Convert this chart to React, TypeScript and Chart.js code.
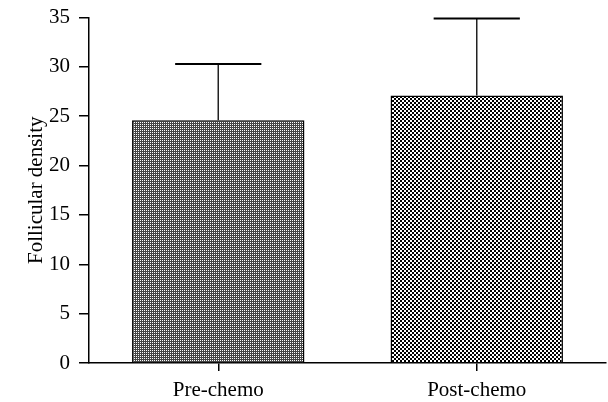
import React, { useEffect, useRef } from "react";
import { Chart, registerables } from "chart.js";

Chart.register(...registerables);

const categories = ["Pre-chemo", "Post-chemo"];
const means = [24.6, 27.1];
const errorTops = [30.3, 34.9];
const yTicks = [0, 5, 10, 15, 20, 25, 30, 35];
const yTitle = "Follicular density";

const FONT = "'Liberation Serif', 'Times New Roman', serif";

function makeDotPattern(ctx: CanvasRenderingContext2D) {
  const c = document.createElement("canvas");
  c.width = 2;
  c.height = 2;
  const g = c.getContext("2d")!;
  g.fillStyle = "#464646";
  g.fillRect(0, 0, 2, 2);
  g.fillStyle = "#ffffff";
  g.fillRect(0, 0, 1, 1);
  return ctx.createPattern(c, "repeat")!;
}

function makeCheckPattern(ctx: CanvasRenderingContext2D) {
  const c = document.createElement("canvas");
  c.width = 4;
  c.height = 4;
  const g = c.getContext("2d")!;
  g.fillStyle = "#ffffff";
  g.fillRect(0, 0, 4, 4);
  g.fillStyle = "#000000";
  g.fillRect(0, 0, 2, 2);
  g.fillRect(2, 2, 2, 2);
  return ctx.createPattern(c, "repeat")!;
}

const errorBarPlugin = {
  id: "errorBars",
  afterDatasetsDraw(chart: any) {
    const ctx = chart.ctx;
    const meta = chart.getDatasetMeta(0);
    const y = chart.scales.y;
    ctx.save();
    meta.data.forEach((bar: any, i: number) => {
      const x = bar.x;
      const yTop = y.getPixelForValue(errorTops[i]);
      const yBar = y.getPixelForValue(means[i]);
      const half = bar.width / 4;
      ctx.strokeStyle = "#222";
      ctx.lineWidth = 1.5;
      ctx.beginPath();
      ctx.moveTo(x, yBar);
      ctx.lineTo(x, yTop);
      ctx.stroke();
      ctx.strokeStyle = "#000";
      ctx.lineWidth = 2;
      ctx.beginPath();
      ctx.moveTo(x - half, yTop);
      ctx.lineTo(x + half, yTop);
      ctx.stroke();
    });
    ctx.restore();
  },
};

export default function App() {
  const ref = useRef<HTMLCanvasElement | null>(null);
  useEffect(() => {
    document.body.style.margin = "0";
    const canvas = ref.current!;
    const ctx = canvas.getContext("2d")!;
    const chart = new Chart(ctx, {
      type: "bar",
      data: {
        labels: categories,
        datasets: [
          {
            data: means,
            backgroundColor: [makeDotPattern(ctx), makeCheckPattern(ctx)],
            borderColor: "#000",
            borderWidth: 1.5,
            barPercentage: 0.667,
            categoryPercentage: 1,
          },
        ],
      },
      options: {
        animation: false,
        responsive: false,
        maintainAspectRatio: false,
        layout: { padding: { top: 17.5, right: 2, left: 0, bottom: 0 } },
        plugins: { legend: { display: false }, tooltip: { enabled: false } },
        scales: {
          x: {
            offset: true,
            grid: {
              display: true,
              offset: false,
              drawOnChartArea: false,
              drawTicks: true,
              tickLength: 8,
              color: "#000",
              lineWidth: 1.5,
            },
            border: { display: true, color: "#000", width: 1.5 },
            ticks: {
              color: "#000",
              font: { family: FONT, size: 21 },
              padding: 7,
              maxRotation: 0,
            },
            afterFit: (s: any) => {
              s.height = 39;
              s.paddingLeft = 0;
              s.paddingRight = 0;
            },
          },
          y: {
            min: 0,
            max: 35,
            afterBuildTicks: (s: any) => {
              s.ticks = yTicks.map((v) => ({ value: v }));
            },
            grid: {
              display: true,
              drawOnChartArea: false,
              drawTicks: true,
              tickLength: 10,
              color: "#000",
              lineWidth: 1.5,
            },
            border: { display: true, color: "#000", width: 1.5 },
            ticks: {
              color: "#000",
              font: { family: FONT, size: 21 },
              padding: 9,
            },
            title: {
              display: true,
              text: yTitle,
              color: "#000",
              font: { family: FONT, size: 21 },
              padding: { top: 24, bottom: 0 },
            },
            afterFit: (s: any) => {
              s.width = 89;
              s.paddingTop = 0;
              s.paddingBottom = 0;
            },
          },
        },
      },
      plugins: [errorBarPlugin],
    });
    return () => chart.destroy();
  }, []);
  return (
    <div style={{ width: 608, height: 402, background: "#fff" }}>
      <canvas ref={ref} width={608} height={402} style={{ display: "block" }} />
    </div>
  );
}
